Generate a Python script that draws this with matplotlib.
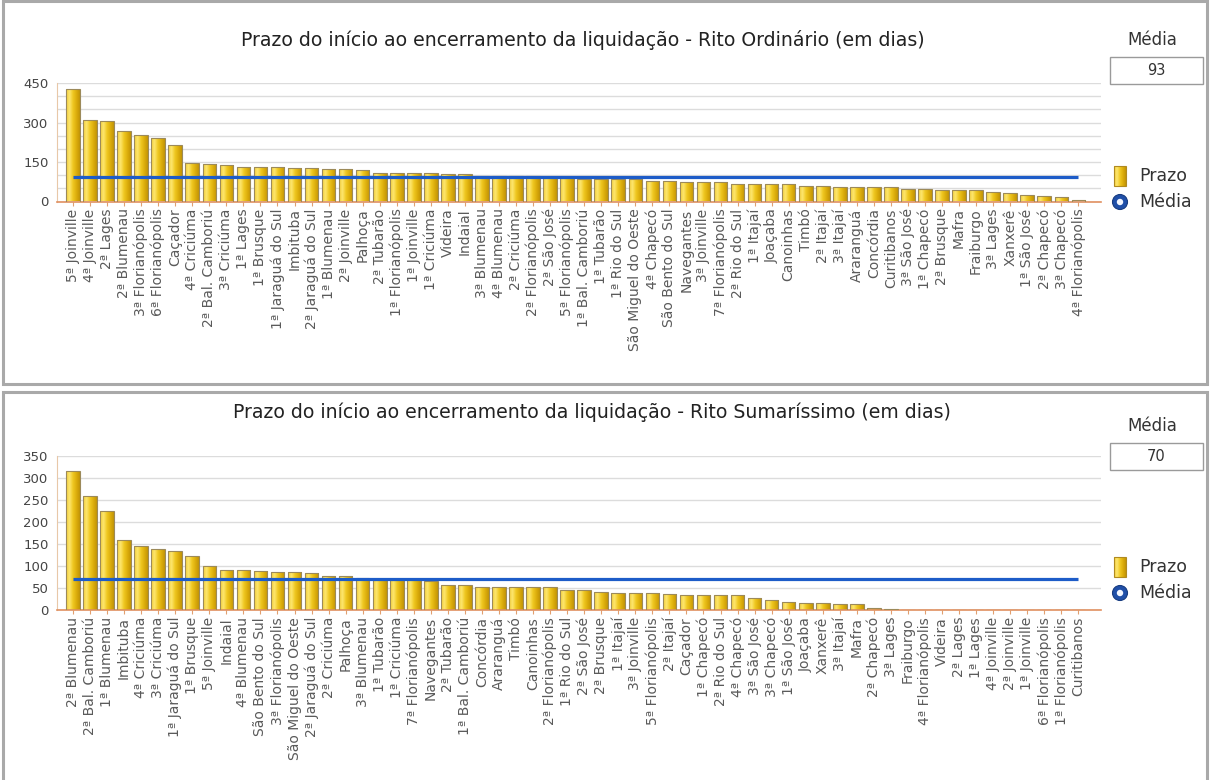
import numpy as np
import matplotlib
matplotlib.use("Agg")
import matplotlib.pyplot as plt
from matplotlib.patches import Rectangle, Circle
from matplotlib.colors import LinearSegmentedColormap

W, H = 1210, 780

# ---- data -------------------------------------------------------------
ord_title = "Prazo do início ao encerramento da liquidação - Rito Ordinário (em dias)"
ord_labels = [
    "5ª Joinville", "4ª Joinville", "2ª Lages", "2ª Blumenau", "3ª Florianópolis",
    "6ª Florianópolis", "Caçador", "4ª Criciúma", "2ª Bal. Camboriú", "3ª Criciúma",
    "1ª Lages", "1ª Brusque", "1ª Jaraguá do Sul", "Imbituba", "2ª Jaraguá do Sul",
    "1ª Blumenau", "2ª Joinville", "Palhoça", "2ª Tubarão", "1ª Florianópolis",
    "1ª Joinville", "1ª Criciúma", "Videira", "Indaial", "3ª Blumenau",
    "4ª Blumenau", "2ª Criciúma", "2ª Florianópolis", "2ª São José", "5ª Florianópolis",
    "1ª Bal. Camboriú", "1ª Tubarão", "1ª Rio do Sul", "São Miguel do Oeste", "4ª Chapecó",
    "São Bento do Sul", "Navegantes", "3ª Joinville", "7ª Florianópolis", "2ª Rio do Sul",
    "1ª Itajaí", "Joaçaba", "Canoinhas", "Timbó", "2ª Itajaí",
    "3ª Itajaí", "Araranguá", "Concórdia", "Curitibanos", "3ª São José",
    "1ª Chapecó", "2ª Brusque", "Mafra", "Fraiburgo", "3ª Lages",
    "Xanxerê", "1ª São José", "2ª Chapecó", "3ª Chapecó", "4ª Florianópolis",
]
ord_values = [
    427, 310, 306, 267, 252, 243, 214, 146, 142, 137,
    132, 132, 132, 127, 127, 123, 123, 118, 109, 108,
    108, 107, 103, 103, 96, 96, 95, 95, 91, 88,
    87, 86, 86, 86, 77, 77, 75, 75, 74, 68,
    68, 67, 67, 60, 60, 55, 55, 55, 55, 47,
    47, 42, 42, 42, 37, 33, 24, 20, 17, 5,
]
ord_media = 93

sum_title = "Prazo do início ao encerramento da liquidação - Rito Sumaríssimo (em dias)"
sum_labels = [
    "2ª Blumenau", "2ª Bal. Camboriú", "1ª Blumenau", "Imbituba", "4ª Criciúma",
    "3ª Criciúma", "1ª Jaraguá do Sul", "1ª Brusque", "5ª Joinville", "Indaial",
    "4ª Blumenau", "São Bento do Sul", "3ª Florianópolis", "São Miguel do Oeste", "2ª Jaraguá do Sul",
    "2ª Criciúma", "Palhoça", "3ª Blumenau", "1ª Tubarão", "1ª Criciúma",
    "7ª Florianópolis", "Navegantes", "2ª Tubarão", "1ª Bal. Camboriú", "Concórdia",
    "Araranguá", "Timbó", "Canoinhas", "2ª Florianópolis", "1ª Rio do Sul",
    "2ª São José", "2ª Brusque", "1ª Itajaí", "3ª Joinville", "5ª Florianópolis",
    "2ª Itajaí", "Caçador", "1ª Chapecó", "2ª Rio do Sul", "4ª Chapecó",
    "3ª São José", "3ª Chapecó", "1ª São José", "Joaçaba", "Xanxerê",
    "3ª Itajaí", "Mafra", "2ª Chapecó", "3ª Lages", "Fraiburgo",
    "4ª Florianópolis", "Videira", "2ª Lages", "1ª Lages", "4ª Joinville",
    "2ª Joinville", "1ª Joinville", "6ª Florianópolis", "1ª Florianópolis", "Curitibanos",
]
sum_values = [
    317, 259, 225, 158, 146, 138, 135, 123, 99, 91,
    91, 89, 86, 86, 83, 77, 77, 73, 69, 69,
    68, 67, 57, 57, 53, 53, 53, 53, 53, 45,
    45, 42, 39, 39, 39, 36, 33, 33, 33, 33,
    27, 23, 18, 17, 15, 14, 14, 5, 2, 0,
    0, 0, 0, 0, 0, 0, 0, 0, 0, 0,
]
sum_media = 70

series_name = "Prazo"
media_name = "Média"

# ---- styling ----------------------------------------------------------
plt.rcParams["font.family"] = ["DejaVu Sans"]
bar_cmap = LinearSegmentedColormap.from_list(
    "gold", ["#f3cf3a", "#fde66e", "#f0c822", "#dcae0c", "#c39406"])
grad = np.linspace(0, 1, 64).reshape(1, -1)
LINE_BLUE = "#1d5cc8"
TEXT = "#333333"
TICK = "#5a5a5a"

fig = plt.figure(figsize=(W / 100, H / 100), dpi=100)
fig.patch.set_facecolor("white")

# overlay in pixel coordinates for frames, titles and side boxes
ov = fig.add_axes([0, 0, 1, 1])
ov.set_xlim(0, W)
ov.set_ylim(H, 0)
ov.axis("off")


def px_axes(left, top, right, bottom):
    return fig.add_axes([left / W, 1 - bottom / H, (right - left) / W, (bottom - top) / H])


def panel(top, bottom, title, labels, values, media, ymax, major, minor,
          ax_top, ax_bottom, title_x, title_y, media_y, legend_y):
    # panel frame
    ov.add_patch(Rectangle((3, top), W - 6, bottom - top, facecolor="white",
                           edgecolor="#a9a9a9", lw=2.2, zorder=0))
    ov.text(title_x, title_y, title, ha="center", va="center", fontsize=13.6, color="#222222")
    # média box
    ov.text(1152, media_y, media_name, ha="center", va="center", fontsize=12, color=TEXT)
    ov.add_patch(Rectangle((1110, media_y + 17), 93, 27, facecolor="white",
                           edgecolor="#9a9a9a", lw=1.0, zorder=2))
    ov.text(1156, media_y + 30.5, str(media), ha="center", va="center", fontsize=10.5, color=TEXT)
    # legend
    ly = legend_y
    lx = 1114
    rect = Rectangle((lx, ly - 10), 12, 20, edgecolor="#b08a20", lw=0.8, facecolor="none", zorder=3)
    ov.add_patch(rect)
    im = ov.imshow(grad, cmap=bar_cmap, aspect="auto", extent=(lx, lx + 12, ly + 10, ly - 10), zorder=2)
    im.set_clip_path(rect)
    ov.text(1139, ly, series_name, ha="left", va="center", fontsize=12.5, color=TEXT)
    ov.add_patch(Circle((lx + 6, ly + 26), 7.5, facecolor="#1f4fa8", edgecolor="#173c80", lw=0.8, zorder=3))
    ov.add_patch(Circle((lx + 6, ly + 26), 3.2, facecolor="#f2f6ff", edgecolor="none", zorder=4))
    ov.text(1139, ly + 26, media_name, ha="left", va="center", fontsize=12.5, color=TEXT)

    ax = px_axes(57, ax_top, 1101, ax_bottom)
    ax.set_facecolor("none")
    n = len(values)
    x = np.arange(n)
    spacing = 17.04
    ax.set_yticks(np.arange(0, ymax + 1, major))
    ax.set_yticks(np.arange(0, ymax + 1, minor), minor=True)
    ax.grid(True, which="both", axis="y", color="#dcdcdc", lw=1.0)
    ax.set_axisbelow(True)
    bars = ax.bar(x, values, width=0.8, color="none", edgecolor="#9c8a5a", lw=0.8, zorder=3)
    for b in bars:
        bx, by = b.get_x(), b.get_y()
        bw, bh = b.get_width(), b.get_height()
        if bh <= 0:
            continue
        im = ax.imshow(grad, cmap=bar_cmap, aspect="auto",
                       extent=(bx, bx + bw, by, by + bh), zorder=2)
        im.set_clip_path(b)
    ax.set_xlim(-(73 - 57) / spacing, (1101 - 73) / spacing)
    ax.set_ylim(0, ymax)
    ax.plot([x[0], x[-1]], [media, media], color=LINE_BLUE, lw=2.3, zorder=4,
            solid_capstyle="butt")
    ax.set_xticks(x)
    ax.set_xticklabels(labels, rotation=90, fontsize=10, color=TICK)
    ax.tick_params(axis="x", length=3, color="#e0a070", pad=2)
    ax.tick_params(axis="y", which="both", length=0, labelsize=9.5, colors="#444444", pad=6)
    for s in ("top", "right"):
        ax.spines[s].set_visible(False)
    ax.spines["left"].set_color("#e8c8a8")
    ax.spines["bottom"].set_color("#e09060")
    ax.spines["bottom"].set_linewidth(1.2)
    return ax


panel(1, 384, ord_title, ord_labels, ord_values, ord_media, 450, 150, 50,
      83, 201.5, 583, 40, 40, 176)
panel(392, 782, sum_title, sum_labels, sum_values, sum_media, 350, 50, 50,
      456, 610, 592, 412, 426, 567)

fig.savefig("out.png", dpi=100, facecolor="white")
